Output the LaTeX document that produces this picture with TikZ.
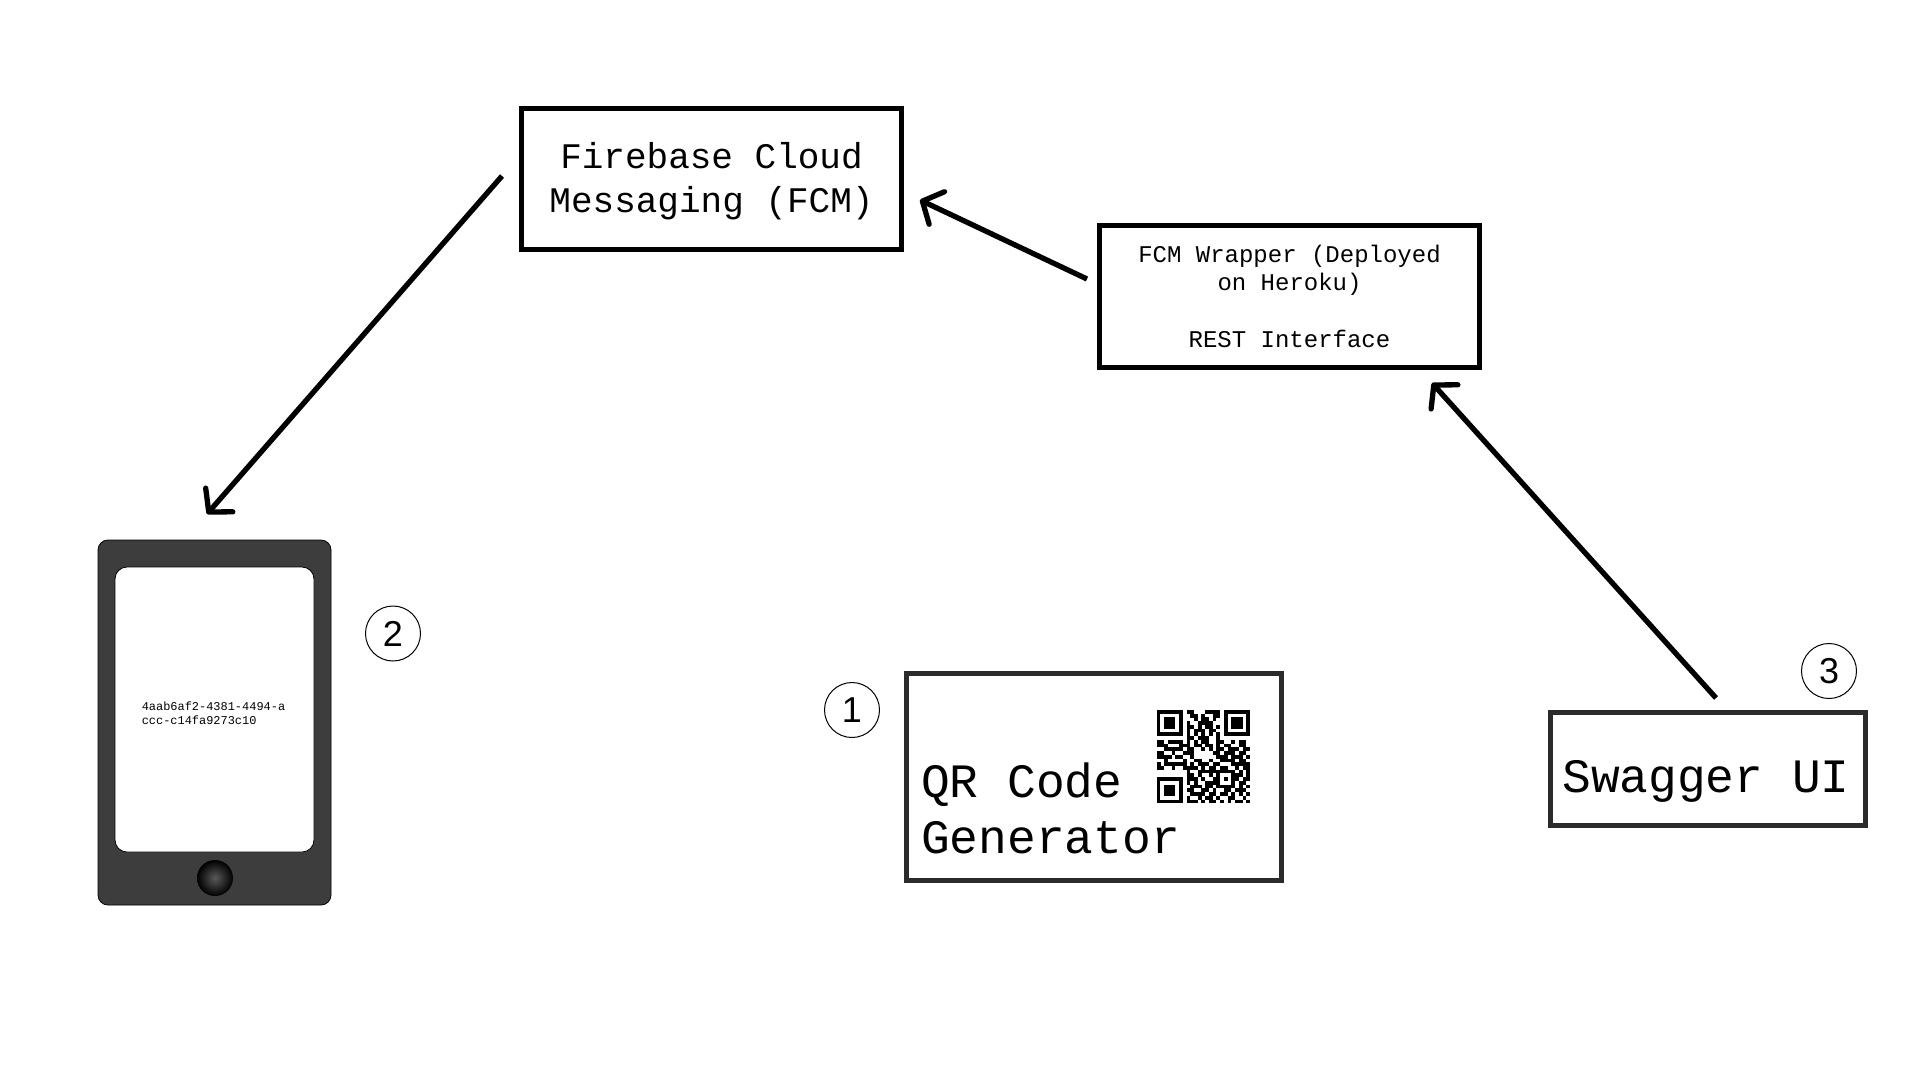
\documentclass[tikz,border=0pt]{standalone}
\usepackage{fontspec}
\usepackage{tikz}
\usetikzlibrary{arrows.meta, positioning, shapes.geometric, calc}
\setmainfont{Liberation Sans}
\setmonofont{Liberation Mono}
\definecolor{phonegray}{HTML}{3D3D3D}
\definecolor{boxdark}{HTML}{2B2B2B}

\begin{document}
\begin{tikzpicture}[
    x=1pt, y=-1pt,
    box/.style={draw=#1, fill=white, line width=5pt, outer sep=0pt, inner sep=0pt, align=center},
    numcircle/.style={draw, circle, line width=1pt, minimum size=55pt, inner sep=0pt,
                      font=\fontsize{36}{40}\selectfont},
    arr/.style={-{Straight Barb[length=16pt, width=36pt, round]}, line width=5.3pt},
]
    \useasboundingbox (0, 0) rectangle (1920, 1080);

    \node[box=black, minimum width=380pt, minimum height=141pt, text depth=2.7pt,
          font=\fontsize{36}{44}\selectfont\ttfamily] (fcm) at (711.5, 179)
          {Firebase Cloud\\Messaging (FCM)};
    \node[box=black, minimum width=380pt, minimum height=142pt,
          font=\fontsize{24}{28.2}\selectfont\ttfamily] (wrapper) at (1289.5, 296.5)
          {FCM Wrapper (Deployed\\on Heroku)\\\\REST Interface};
    \node[box=boxdark, minimum width=375pt, minimum height=207pt] (qr) at (1094, 777) {};
    \node[anchor=south west, inner sep=0pt, align=left,
          font=\fontsize{47.9}{56}\selectfont\ttfamily] (qrlabel)
          at ([xshift=14.5pt, yshift=26.5pt]qr.south west) {QR Code\\Generator};
    \node[box=boxdark, minimum width=315pt, minimum height=113pt, text height=46pt, text depth=0pt,
          font=\fontsize{47.9}{56}\selectfont\ttfamily] (swagger) at (1708, 769) {Swagger UI\hspace*{4pt}};

    % phone
    \node[draw, fill=phonegray, rounded corners=10pt, line width=0.8pt, outer sep=0pt,
          minimum width=233pt, minimum height=365pt] (phone) at (214.5, 722.5) {};
    \node[draw, fill=white, rounded corners=12pt, line width=0.8pt, outer sep=0pt,
          minimum width=199pt, minimum height=285pt] (screen) at (214.5, 709.5) {};
    \node[align=left, inner sep=0pt, font=\fontsize{11.95}{13.7}\selectfont\ttfamily] (screentext)
          at (213.5, 713) {4aab6af2-4381-4494-a\\ccc-c14fa9273c10};
    \node[circle, minimum size=36pt, inner sep=0pt, inner color=black!65, outer color=black] (homebtn)
          at (215, 878) {};

    \node[numcircle] (n1) at (852, 710) {1};
    \node[numcircle] (n2) at (393, 633.5) {2};
    \node[numcircle] (n3) at (1829, 671) {3};

    % qr code
    \begin{scope}[shift={(1156.7, 710)}, x=3.73pt, y=-3.73pt]
        \foreach \fx/\fy in {0/0, 18/0, 0/18} {
            \draw[line width=3.73pt] (\fx+0.5, \fy+0.5) rectangle (\fx+6.5, \fy+6.5);
            \fill (\fx+2, \fy+2) rectangle (\fx+5, \fy+5);
        }
        \foreach \r/\cs in {
            0/{8,9,13,14,15,16}, 1/{9,10,12,15,16}, 2/{10,12,13,15}, 3/{8,11,12,13,14},
            4/{8,9,11,13,14,16}, 5/{8,10,11,12,14,15}, 6/{8,10,12,14,16}, 7/{8,9,11,12,13,16},
            8/{0,1,3,4,5,6,8,10,12,13,16,17,20,22,23},
            9/{0,1,2,6,7,8,10,11,13,14,16,18,19,22,23},
            10/{2,3,4,5,6,8,9,12,14,16,17,19,20,21,23,24},
            11/{0,1,4,7,8,9,15,16,18,19,20,22,23},
            12/{0,1,2,3,5,6,9,16,17,18,20,21,22,24},
            13/{2,7,10,11,14,17,18,19,20,22,23},
            14/{0,2,3,4,5,6,7,9,11,12,13,15,16,20,21,22,23,24},
            15/{0,1,4,7,8,9,10,12,14,15,17,18,21,23,24},
            16/{8,11,12,13,14,15,16,17,18,19,20,22,24},
            17/{8,9,11,14,16,20,21,22,24},
            18/{8,9,10,12,15,16,18,20,21,23,24},
            19/{8,10,13,14,15,16,20,22,23},
            20/{9,10,11,13,14,16,17,18,19,20,22,24},
            21/{8,9,12,13,15,18,19,21,22,23},
            22/{9,10,11,12,14,15,17,18,20,22,24},
            23/{8,11,13,14,16,19,20,23},
            24/{8,9,10,12,14,15,17,19,21,22,24}} {
            \foreach \c in \cs {
                \fill (\c, \r) rectangle +(1.02, 1.02);
            }
        }
    \end{scope}

    \draw[arr] ([xshift=8pt, yshift=14.5pt]swagger.north) -- ([xshift=142.5pt, yshift=-15.5pt]wrapper.south);
    \draw[arr] ([xshift=-12.5pt, yshift=17.5pt]wrapper.west) -- ([xshift=18.5pt, yshift=-21pt]fcm.east);
    \draw[arr] ([xshift=-19.5pt, yshift=3pt]fcm.west) -- ([xshift=-7.5pt, yshift=26pt]phone.north);
\end{tikzpicture}
\end{document}
